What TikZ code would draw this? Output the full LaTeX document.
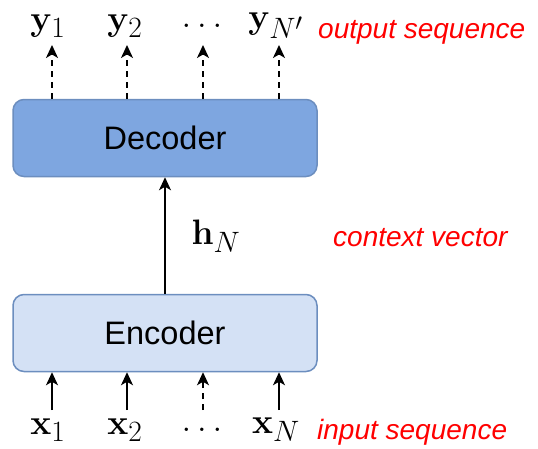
\documentclass[tikz,border=0pt]{standalone}
\usepackage[no-math]{fontspec}
\usepackage{graphicx}
\setmainfont{Liberation Sans}
\usetikzlibrary{arrows.meta}
\definecolor{decfill}{HTML}{7EA6E0}
\definecolor{encfill}{HTML}{D4E1F5}
\definecolor{boxline}{HTML}{6C8EBF}
\definecolor{lblred}{HTML}{FF0000}
\newcommand{\seqmath}[1]{\scalebox{1.42}{\Huge$#1$}}
\begin{document}
\begin{tikzpicture}[x=1pt,y=-1pt,
  block/.style={draw=boxline,line width=1.5pt,rounded corners=11pt,minimum width=304pt,minimum height=77pt,inner sep=0pt,font=\fontsize{32.5}{38}\selectfont},
  mlabel/.style={inner sep=0pt},
  redlabel/.style={inner sep=0pt,text=lblred,font=\fontsize{28}{33}\selectfont\itshape,anchor=west},
  arr/.style={line width=1.5pt,-{Stealth[length=13pt,width=12pt,inset=3.5pt]}},
  darr/.style={arr,dash pattern=on 6pt off 5pt}
]
\useasboundingbox (0,0) rectangle (538,448);
\node[block,fill=decfill] (dec) at (165,138) {Decoder};
\node[block,fill=encfill] (enc) at (165,333) {Encoder};
% outputs
\node[mlabel] (y1) at (48,26) {\seqmath{\mathbf{y}_1}};
\node[mlabel] (y2) at (125,26) {\seqmath{\mathbf{y}_2}};
\node[mlabel] (yd) at (202,26) {\seqmath{\dots}};
\node[mlabel] (yN) at (276,26) {\seqmath{\mathbf{y}_{N'}}};
\node[redlabel] (outl) at (318,32) {output sequence};
\coordinate (t1) at (52,45);
\coordinate (t2) at (127,45);
\coordinate (t3) at (203,45);
\coordinate (t4) at (279,45);
\draw[darr] (dec.north -| t1) -- (t1);
\draw[darr] (dec.north -| t2) -- (t2);
\draw[darr] (dec.north -| t3) -- (t3);
\draw[darr] (dec.north -| t4) -- (t4);
% context
\draw[arr] (enc.north) -- (dec.south);
\node[mlabel] (h) at (216,236) {\seqmath{\mathbf{h}_N}};
\node[redlabel] (ctx) at (333,238) {context vector};
% inputs
\node[mlabel] (x1) at (48,430) {\seqmath{\mathbf{x}_1}};
\node[mlabel] (x2) at (125,430) {\seqmath{\mathbf{x}_2}};
\node[mlabel] (xd) at (202,430) {\seqmath{\dots}};
\node[mlabel] (xN) at (276,430) {\seqmath{\mathbf{x}_N}};
\node[redlabel] (inl) at (317,432) {input sequence};
\coordinate (b1) at (52,410);
\coordinate (b2) at (127,410);
\coordinate (b3) at (203,410);
\coordinate (b4) at (279,410);
\draw[arr] (b1) -- (enc.south -| b1);
\draw[arr] (b2) -- (enc.south -| b2);
\draw[darr] (b3) -- (enc.south -| b3);
\draw[arr] (b4) -- (enc.south -| b4);
\end{tikzpicture}
\end{document}
